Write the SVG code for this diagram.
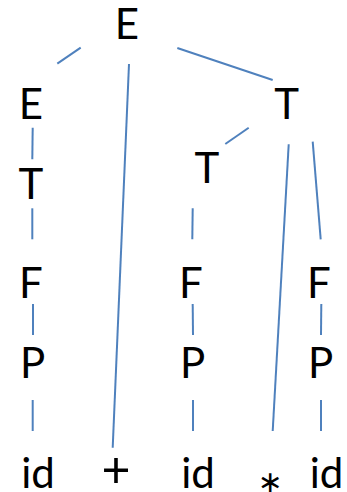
<svg xmlns="http://www.w3.org/2000/svg" width="347" height="492" viewBox="0 0 347 492">
  <style>
    .sym { font-family: Lato, "Open Sans", sans-serif; font-size: 42px; fill: #000; text-anchor: middle; }
    .op { font-family: "DejaVu Sans", sans-serif; fill: #000; text-anchor: middle; }
    .edge { stroke: #4F81BD; stroke-width: 2; fill: none; stroke-linecap: butt; }
  </style>
  <rect width="347" height="492" fill="#fff"/>
  <g id="connectors">
    <line class="edge" x1="80.7" y1="47.7" x2="57.3" y2="63.7"/>
    <line class="edge" x1="129" y1="64" x2="112.7" y2="447.7"/>
    <line class="edge" x1="177.3" y1="48" x2="272.7" y2="80"/>
    <line class="edge" x1="32.7" y1="127.7" x2="32.3" y2="159.3"/>
    <line class="edge" x1="32.3" y1="208.3" x2="32.3" y2="239.3"/>
    <line class="edge" x1="33" y1="304" x2="33" y2="335"/>
    <line class="edge" x1="32.7" y1="400" x2="32.7" y2="431"/>
    <line class="edge" x1="248.7" y1="127.7" x2="225.3" y2="144"/>
    <line class="edge" x1="288.7" y1="144.3" x2="272.7" y2="431"/>
    <line class="edge" x1="312.7" y1="141.7" x2="320.7" y2="239.3"/>
    <line class="edge" x1="192.7" y1="208.3" x2="192.3" y2="239.3"/>
    <line class="edge" x1="192.7" y1="304" x2="193" y2="335"/>
    <line class="edge" x1="193" y1="400" x2="193" y2="431"/>
    <line class="edge" x1="321.3" y1="304" x2="321" y2="335"/>
    <line class="edge" x1="321" y1="400" x2="321" y2="431"/>
  </g>
  <g id="E-root"><text class="sym" x="127" y="39">E</text></g>
  <g id="E-left"><text class="sym" x="31" y="119">E</text></g>
  <g id="T-right"><text class="sym" x="286.7" y="119">T</text></g>
  <g id="T-left"><text class="sym" x="31" y="199">T</text></g>
  <g id="T-mid"><text class="sym" x="207" y="183">T</text></g>
  <g id="F-left"><text class="sym" x="31" y="298">F</text></g>
  <g id="F-mid"><text class="sym" x="191" y="298">F</text></g>
  <g id="F-right"><text class="sym" x="319" y="298">F</text></g>
  <g id="P-left"><text class="sym" x="32.5" y="378">P</text></g>
  <g id="P-mid"><text class="sym" x="192.5" y="378">P</text></g>
  <g id="P-right"><text class="sym" x="320.5" y="378">P</text></g>
  <g id="id-1"><text class="sym" x="38" y="488">id</text></g>
  <g id="plus"><text class="sym" x="116" y="487" style="font-size:50px">+</text></g>
  <g id="id-2"><text class="sym" x="198" y="488">id</text></g>
  <g id="star"><text class="op" x="270" y="491.5" style="font-size:30px">∗</text></g>
  <g id="id-3"><text class="sym" x="326.5" y="488">id</text></g>
</svg>
